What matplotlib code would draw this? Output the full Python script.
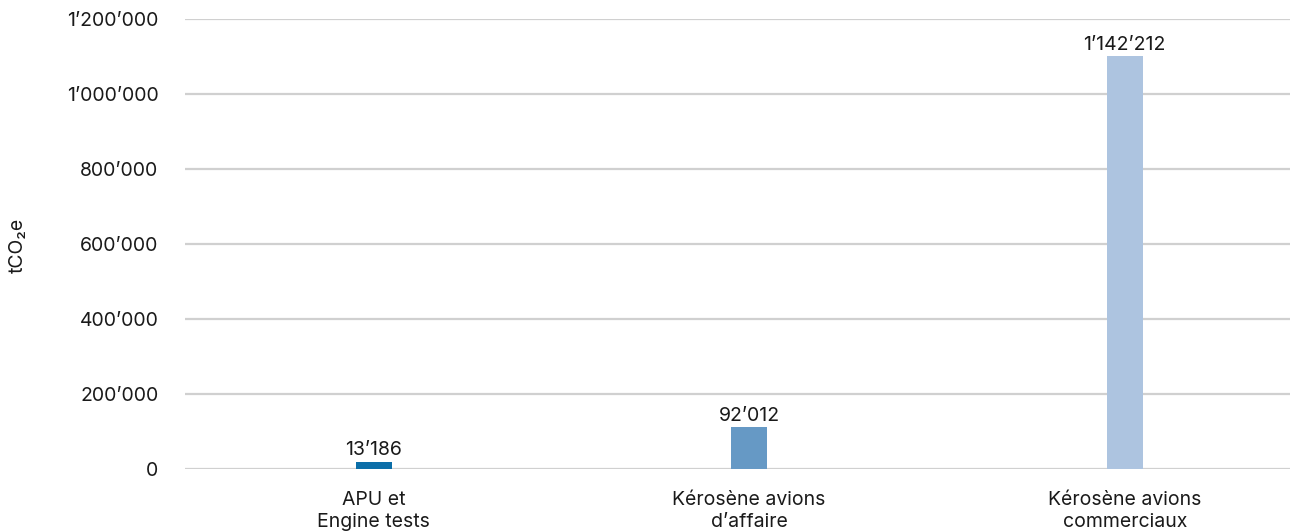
import matplotlib.pyplot as plt
from matplotlib.ticker import FuncFormatter

plt.rcParams['font.family'] = ['Inter', 'DejaVu Sans']

# data
categories = ['APU et\nEngine tests', 'Kérosène avions\nd\u2019affaire', 'Kérosène avions\ncommerciaux']
heights = [20000, 111000, 1101000]
labels = ['13\u2019186', '92\u2019012', '1\u2019142\u2019212']
colors = ['#0b6ea8', '#6699c5', '#adc4e0']
yticks = [0, 200000, 400000, 600000, 800000, 1000000, 1200000]

def swiss(v, pos=None):
    return f'{int(v):,}'.replace(',', '\u2019')

fig = plt.figure(figsize=(12.98, 5.32), dpi=100)
ax = fig.add_axes([185/1298, 1 - 469/532, (1290-185)/1298, (469-19)/532])

x = range(len(categories))
ax.bar(x, heights, width=0.096, color=colors, zorder=3)
for i, (h, lab) in enumerate(zip(heights, labels)):
    ax.text(i, h + 6000, lab, ha='center', va='bottom', fontsize=14, color='#1a1a1a', zorder=4)

ax.set_xlim(-0.502, 2.44)
ax.set_ylim(0, 1200000)
ax.set_yticks(yticks)
ax.yaxis.set_major_formatter(FuncFormatter(swiss))
ax.set_xticks(list(x))
ax.set_xticklabels(categories, fontsize=14, color='#1a1a1a', linespacing=1.25)
ax.tick_params(axis='y', length=0, pad=19, labelsize=14, labelcolor='#1a1a1a')
ax.tick_params(axis='x', length=0, pad=16)
ax.grid(axis='y', color='#d0d0d0', linewidth=1.6, zorder=0)
ax.set_axisbelow(True)
for s in ax.spines.values():
    s.set_visible(False)

fig.text(18/1298, 1 - 245/532, 'tCO\u2082e', rotation=90, ha='center', va='center',
         fontsize=14, color='#1a1a1a')

fig.savefig('out.png', dpi=100)
